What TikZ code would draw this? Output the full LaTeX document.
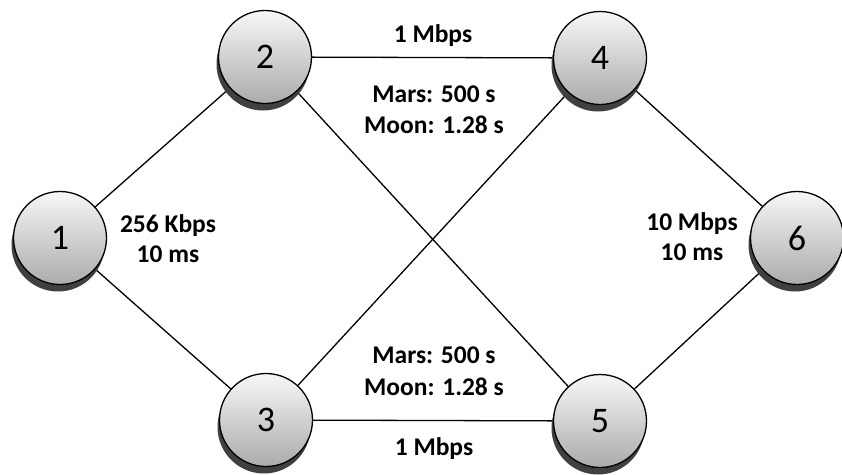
\documentclass[tikz,border=0pt]{standalone}
\usepackage{fontspec}
\setmainfont{Carlito}
\usetikzlibrary{shadows}
\tikzset{
  nd/.style={circle, draw=black, line width=1.3pt, minimum size=93pt, inner sep=0pt,
    top color=black!3, bottom color=black!33,
    general shadow={fill=black!75, shadow xshift=-2pt, shadow yshift=-7pt},
    font=\fontsize{36}{40}\selectfont},
  lbl/.style={anchor=base, inner sep=0pt, font=\fontsize{25.5}{31}\selectfont\bfseries},
  link/.style={line width=1.3pt, black}
}
\begin{document}
\begin{tikzpicture}[x=1pt, y=-1pt]
\useasboundingbox (0,0) rectangle (842,474);
\coordinate (c1) at (60,238);
\coordinate (c2) at (265,57);
\coordinate (c3) at (266,420);
\coordinate (c4) at (600,58);
\coordinate (c5) at (600,421);
\coordinate (c6) at (797,238);
\draw[link] (c1) -- (c2);
\draw[link] (c1) -- (c3);
\draw[link] (c2) -- (c4);
\draw[link] (c2) -- (c5);
\draw[link] (c3) -- (c4);
\draw[link] (c3) -- (c5);
\draw[link] (c4) -- (c6);
\draw[link] (c5) -- (c6);
\node[nd] (n1) at (c1) {1};
\node[nd] (n2) at (c2) {2};
\node[nd] (n3) at (c3) {3};
\node[nd] (n4) at (c4) {4};
\node[nd] (n5) at (c5) {5};
\node[nd] (n6) at (c6) {6};
\node[lbl] (t24) at (433,42) {1 Mbps};
\node[lbl] (m1) at (434,102) {Mars: 500 s};
\node[lbl] (m2) at (434,133) {Moon: 1.28 s};
\node[lbl] (b1) at (434,363) {Mars: 500 s};
\node[lbl] (b2) at (434,395) {Moon: 1.28 s};
\node[lbl] (t35) at (434,455) {1 Mbps};
\node[lbl] (k1) at (168,232) {256 Kbps};
\node[lbl] (k2) at (168,262) {10 ms};
\node[lbl] (r1) at (692,230) {10 Mbps};
\node[lbl] (r2) at (692,260) {10 ms};
\end{tikzpicture}
\end{document}
